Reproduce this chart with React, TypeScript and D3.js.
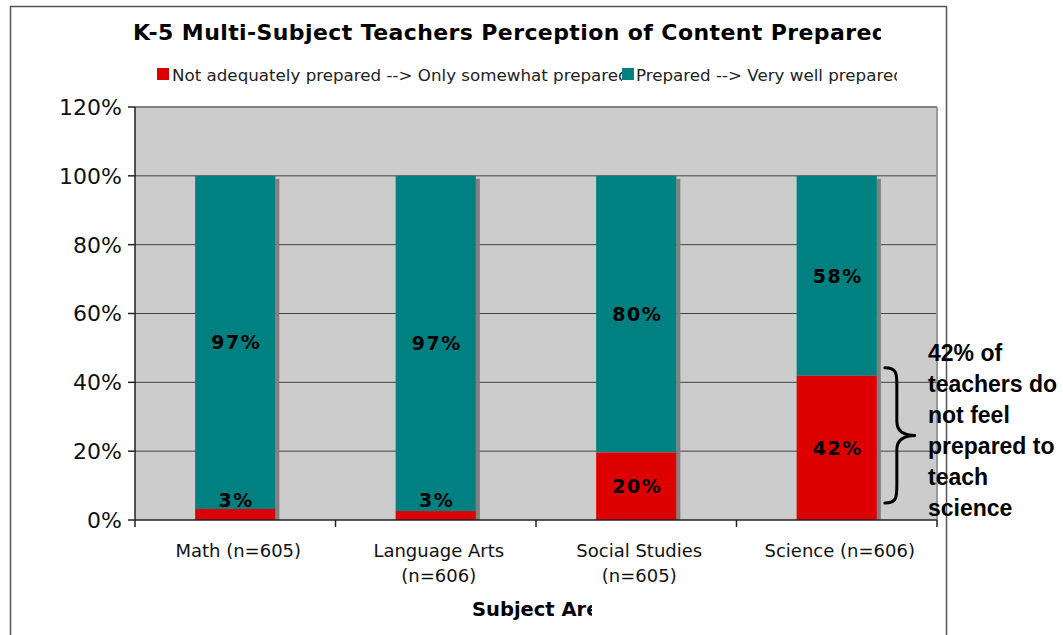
import React from "react";
import * as d3 from "d3";

const title = "K-5 Multi-Subject Teachers Perception of Content Preparedness";
const seriesNames = ["Not adequately prepared --> Only somewhat prepared", "Prepared --> Very well prepared"];
const categories = ["Math", "Language Arts", "Social Studies", "Science"];
const categoryLines = [["Math (n=605)"], ["Language Arts", "(n=606)"], ["Social Studies", "(n=605)"], ["Science (n=606)"]];
const notPrepared = [3.2, 2.6, 19.6, 41.9];
const prepared = [96.8, 97.4, 80.4, 58.1];
const yTicks = [0, 20, 40, 60, 80, 100, 120];
const axisTitle = "Subject Area";
const noteLines = ["42% of", "teachers do", "not feel", "prepared to", "teach", "science"];

const RED = "#DC0000";
const TEAL = "#008080";
const verdana = "'DejaVu Sans', Verdana, sans-serif";
const arial = "'Liberation Sans', Arial, sans-serif";

export default function App() {
  const W = 1063, H = 635;
  const left = 135, right = 937, top = 107, bottom = 520;
  const y = d3.scaleLinear().domain([0, 120]).range([bottom, top]);
  const x = d3.scaleBand<string>().domain(categories).range([left, right]).paddingInner(0.6).paddingOuter(0.3);
  const step = x.step();
  const bw = x.bandwidth();
  const boundaries = d3.range(categories.length + 1).map((i) => left + i * step);
  const sci = categories.length - 1;
  const braceX = (x(categories[sci]) as number) + bw + 8;
  const braceTop = y(notPrepared[sci]) - 8;
  const braceBot = y(0) - 17;
  const braceMid = (braceTop + braceBot) / 2;
  const vx = braceX + 12;
  const tip = braceX + 31;
  const bracePath = `M${braceX},${braceTop} C${vx},${braceTop} ${vx},${braceTop + 6} ${vx},${braceTop + 18}
    L${vx},${braceMid - 14} C${vx},${braceMid - 3} ${vx + 8},${braceMid} ${tip},${braceMid}
    C${vx + 8},${braceMid} ${vx},${braceMid + 3} ${vx},${braceMid + 14}
    L${vx},${braceBot - 18} C${vx},${braceBot - 6} ${vx},${braceBot} ${braceX},${braceBot}`;

  return (
    <div style={{ position: "fixed", left: 0, top: 0, width: W, height: H, background: "#fff" }}>
      <svg width={W} height={H} xmlns="http://www.w3.org/2000/svg">
        <defs>
          <clipPath id="titleClip"><rect x={0} y={0} width={881} height={60} /></clipPath>
          <clipPath id="leg1Clip"><rect x={150} y={55} width={472} height={40} /></clipPath>
          <clipPath id="leg2Clip"><rect x={622} y={55} width={275} height={40} /></clipPath>
          <clipPath id="axisTitleClip"><rect x={400} y={590} width={192} height={40} /></clipPath>
        </defs>
        {/* outer frame */}
        <path d={`M10.5,${H} L10.5,6.5 L946.5,6.5 L946.5,${H}`} fill="none" stroke="#555" strokeWidth={1.5} />

        {/* title */}
        <text x={133} y={40} fontFamily={verdana} fontWeight="bold" fontSize={22} letterSpacing={0.4} fill="#000" clipPath="url(#titleClip)">{title}</text>

        {/* legend */}
        <rect x={157} y={68} width={12} height={12} fill={RED} />
        <text x={172} y={81} fontFamily={verdana} fontSize={16.7} fill="#222" clipPath="url(#leg1Clip)">{seriesNames[0]}</text>
        <text x={636} y={81} fontFamily={verdana} fontSize={16.7} fill="#222" clipPath="url(#leg2Clip)">{seriesNames[1]}</text>
        <rect x={622} y={68} width={12} height={12} fill={TEAL} />

        {/* plot area */}
        <rect x={left} y={top} width={right - left} height={bottom - top} fill="#CCCCCC" />
        {yTicks.filter((t) => t > 0 && t < 120).map((t) => (
          <line key={t} x1={left} x2={right} y1={y(t)} y2={y(t)} stroke="#444" strokeWidth={1} />
        ))}
        <line x1={left} x2={right} y1={top} y2={top} stroke="#808080" strokeWidth={2} />
        <line x1={right} x2={right} y1={top} y2={bottom} stroke="#999" strokeWidth={2} />

        {/* bars */}
        {categories.map((c, i) => {
          const x0 = x(c) as number;
          const yRedTop = y(notPrepared[i]);
          const yTealTop = y(notPrepared[i] + prepared[i]);
          return (
            <g key={c}>
              <rect x={x0 + bw} y={yTealTop + 3} width={4} height={bottom - yTealTop - 3} fill="#808080" />
              <rect x={x0} y={yTealTop} width={bw} height={yRedTop - yTealTop} fill={TEAL} />
              <rect x={x0} y={yRedTop} width={bw} height={bottom - yRedTop} fill={RED} />
            </g>
          );
        })}

        {/* data labels */}
        {categories.map((c, i) => {
          const cx = (x(c) as number) + bw / 2 + 1;
          const redMid = Math.min((y(0) + y(notPrepared[i])) / 2, y(0) - 20);
          const tealMid = (y(notPrepared[i]) + y(notPrepared[i] + prepared[i])) / 2;
          return (
            <g key={c} fontFamily={verdana} fontWeight="bold" fontSize={19} letterSpacing={1.5} fill="#000" textAnchor="middle">
              <text x={cx} y={tealMid} dy="0.36em">{`${Math.round(prepared[i])}%`}</text>
              <text x={cx} y={redMid} dy="0.36em">{`${Math.round(notPrepared[i])}%`}</text>
            </g>
          );
        })}

        {/* y axis */}
        <line x1={left} x2={left} y1={top} y2={bottom} stroke="#222" strokeWidth={1.5} />
        {yTicks.map((t) => (
          <g key={t}>
            <line x1={left - 7} x2={left} y1={y(t)} y2={y(t)} stroke="#222" strokeWidth={1.5} />
            <text x={122} y={y(t)} dy="0.36em" textAnchor="end" fontFamily={verdana} fontSize={22} fill="#111">{`${t}%`}</text>
          </g>
        ))}

        {/* x axis */}
        <line x1={left} x2={right} y1={bottom} y2={bottom} stroke="#222" strokeWidth={1.5} />
        {boundaries.map((b, i) => (
          <line key={i} x1={b} x2={b} y1={bottom} y2={bottom + 7} stroke="#222" strokeWidth={1.5} />
        ))}
        {categories.map((c, i) => (
          <text key={c} x={(x(c) as number) + bw / 2 + 3} y={557} textAnchor="middle" fontFamily={verdana} fontSize={18} fill="#111">
            {categoryLines[i].map((l, j) => (
              <tspan key={j} x={(x(c) as number) + bw / 2 + 3} dy={j === 0 ? 0 : 25}>{l}</tspan>
            ))}
          </text>
        ))}
        <text x={472} y={616} fontFamily={verdana} fontWeight="bold" fontSize={19.5} fill="#000" clipPath="url(#axisTitleClip)">{axisTitle}</text>

        {/* brace & note */}
        <path d={bracePath} fill="none" stroke="#000" strokeWidth={3} strokeLinecap="round" />
        {noteLines.map((l, i) => (
          <text key={i} x={928} y={361 + i * 31} fontFamily={arial} fontWeight="bold" fontSize={23} fill="#000">{l}</text>
        ))}
      </svg>
    </div>
  );
}
